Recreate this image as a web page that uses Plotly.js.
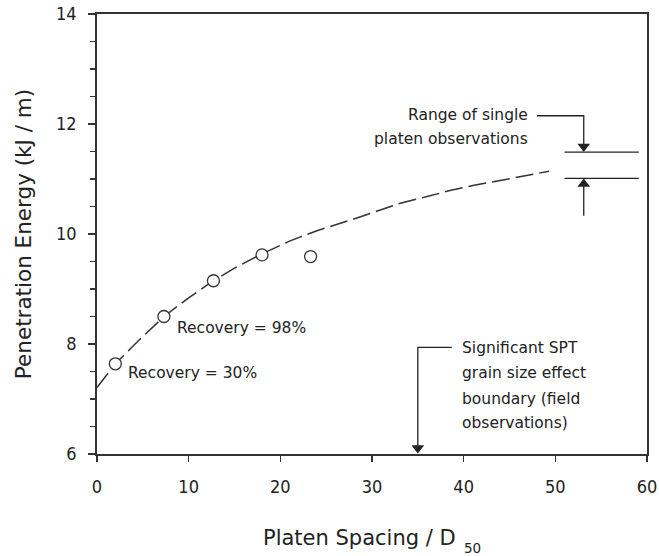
<!DOCTYPE html>
<html>
<head>
<meta charset="utf-8">
<script src="https://cdn.plot.ly/plotly-3.0.1.min.js"></script>
<style>
html,body{margin:0;padding:0;background:#fff;}
#chart{width:659px;height:556px;}
</style>
</head>
<body>
<div id="chart"></div>
<script>
// Observed data points (open circles)
const pointX = [2.0, 7.3, 12.7, 18.0, 23.3];
const pointY = [7.64, 8.50, 9.15, 9.62, 9.59];

// Dashed trend curve
const curveX = [0, 2, 4.4, 7.3, 10, 12.7, 15, 18, 21, 24, 27.6, 30, 33.1, 36, 38.5, 41, 44, 47, 49.3];
const curveY = [7.21, 7.64, 8.04, 8.50, 8.84, 9.15, 9.38, 9.64, 9.87, 10.06, 10.25, 10.38, 10.56, 10.68, 10.79, 10.88, 10.97, 11.06, 11.14];

// Range of single platen observations (bounds)
const rangeLow = 11.01;
const rangeHigh = 11.49;
const rangeX = [51.0, 59.1];

// Significant SPT grain size boundary
const sptBoundary = 35.0;

// Text labels
const recoveryLabels = ["Recovery = 30%", "Recovery = 98%"];
const rangeLabels = ["Range of single", "platen observations"];
const sptLabels = ["Significant SPT", "grain size effect", "boundary (field", "observations)"];
const xTitle = "Platen Spacing / D";
const xTitleSub = "50";
const yTitle = "Penetration Energy (kJ / m)";

const INK = '#222';
const FONT = '"DejaVu Sans", sans-serif';
const TICKFONT = '"Liberation Sans Narrow", "DejaVu Sans Condensed", "DejaVu Sans", sans-serif';

// arrowhead tip offset (triangle marker: tip is size/2 px from centre; 55 px per y-unit)
const HEAD = 11;
const tipOff = (HEAD / 2) / 55;

const traces = [
  {
    x: curveX, y: curveY, type: 'scatter', mode: 'lines',
    line: {color: '#333', width: 1.5, dash: '18px,6px'},
    hoverinfo: 'skip', showlegend: false
  },
  {
    x: pointX, y: pointY, type: 'scatter', mode: 'markers',
    marker: {symbol: 'circle', size: 12, color: '#fff', line: {color: '#333', width: 1.3}},
    cliponaxis: false, showlegend: false
  },
  // arrow shafts
  {
    x: [48.0, 53.1, 53.1, null, 53.1, 53.1, null, 38.7, sptBoundary, sptBoundary],
    y: [12.15, 12.15, rangeHigh + tipOff, null, 10.33, rangeLow - tipOff, null, 7.94, 7.94, 6.0 + tipOff],
    type: 'scatter', mode: 'lines', line: {color: INK, width: 1.3},
    cliponaxis: false, hoverinfo: 'skip', showlegend: false
  },
  // arrowheads
  {
    x: [53.1, sptBoundary], y: [rangeHigh + tipOff, 6.0 + tipOff * 1.1],
    type: 'scatter', mode: 'markers',
    marker: {symbol: 'triangle-down', size: HEAD, color: INK, line: {width: 0}},
    cliponaxis: false, hoverinfo: 'skip', showlegend: false
  },
  {
    x: [53.1], y: [rangeLow - tipOff],
    type: 'scatter', mode: 'markers',
    marker: {symbol: 'triangle-up', size: HEAD, color: INK, line: {width: 0}},
    cliponaxis: false, hoverinfo: 'skip', showlegend: false
  }
];

const txt = (x, y, text, xanchor) => ({
  x: x, y: y, xref: 'x', yref: 'y', text: text, showarrow: false,
  xanchor: xanchor, yanchor: 'middle',
  font: {family: FONT, size: 15.5, color: INK}
});

const annotations = [
  txt(3.15, 7.48, recoveryLabels[0], 'left'),
  txt(8.5, 8.30, recoveryLabels[1], 'left'),
  txt(47.2, 12.16, rangeLabels[0], 'right'),
  txt(47.2, 11.72, rangeLabels[1], 'right'),
  txt(39.65, 7.92, sptLabels[0], 'left'),
  txt(39.65, 7.47, sptLabels[1], 'left'),
  txt(39.65, 7.00, sptLabels[2], 'left'),
  txt(39.65, 6.56, sptLabels[3], 'left'),
  // x-axis title (with subscript drawn as its own text)
  {
    xref: 'paper', yref: 'paper', x: 0.4764, y: -0.191, text: xTitle, showarrow: false,
    xanchor: 'center', yanchor: 'middle', font: {family: FONT, size: 21, color: INK}
  },
  {
    xref: 'paper', yref: 'paper', x: 0.6636, y: -0.2136, text: xTitleSub, showarrow: false,
    xanchor: 'left', yanchor: 'middle', font: {family: FONT, size: 13.5, color: INK}
  }
];

const lineStyle = {color: INK, width: 1.3};
const shapes = [
  {type: 'line', xref: 'x', yref: 'y', x0: rangeX[0], x1: rangeX[1], y0: rangeHigh, y1: rangeHigh, line: lineStyle},
  {type: 'line', xref: 'x', yref: 'y', x0: rangeX[0], x1: rangeX[1], y0: rangeLow, y1: rangeLow, line: lineStyle}
];

const layout = {
  width: 659, height: 556,
  margin: {l: 97, r: 12, t: 14, b: 102, pad: 0},
  paper_bgcolor: '#fff', plot_bgcolor: '#fff',
  showlegend: false,
  xaxis: {
    range: [0, 60], tickvals: [0, 10, 20, 30, 40, 50, 60],
    ticks: 'outside', ticklen: 6, tickwidth: 1.5, tickcolor: '#333',
    showline: true, linecolor: '#333', linewidth: 1.8, mirror: true,
    showgrid: false, zeroline: false,
    tickfont: {family: TICKFONT, size: 18, color: INK},
    ticklabelstandoff: 10
  },
  yaxis: {
    range: [6, 14], tickvals: [6, 8, 10, 12, 14],
    ticks: 'outside', ticklen: 7, tickwidth: 1.5, tickcolor: '#333',
    minor: {dtick: 0.5, ticks: 'outside', ticklen: 5, tickwidth: 1.3, tickcolor: '#333', showgrid: false},
    showline: true, linecolor: '#333', linewidth: 1.8, mirror: true,
    showgrid: false, zeroline: false,
    tickfont: {family: TICKFONT, size: 18, color: INK},
    ticklabelstandoff: 8,
    title: {text: yTitle, font: {family: FONT, size: 21.5, color: INK}, standoff: 18}
  },
  annotations: annotations,
  shapes: shapes
};

Plotly.newPlot('chart', traces, layout, {displayModeBar: false, staticPlot: true});
</script>
</body>
</html>
